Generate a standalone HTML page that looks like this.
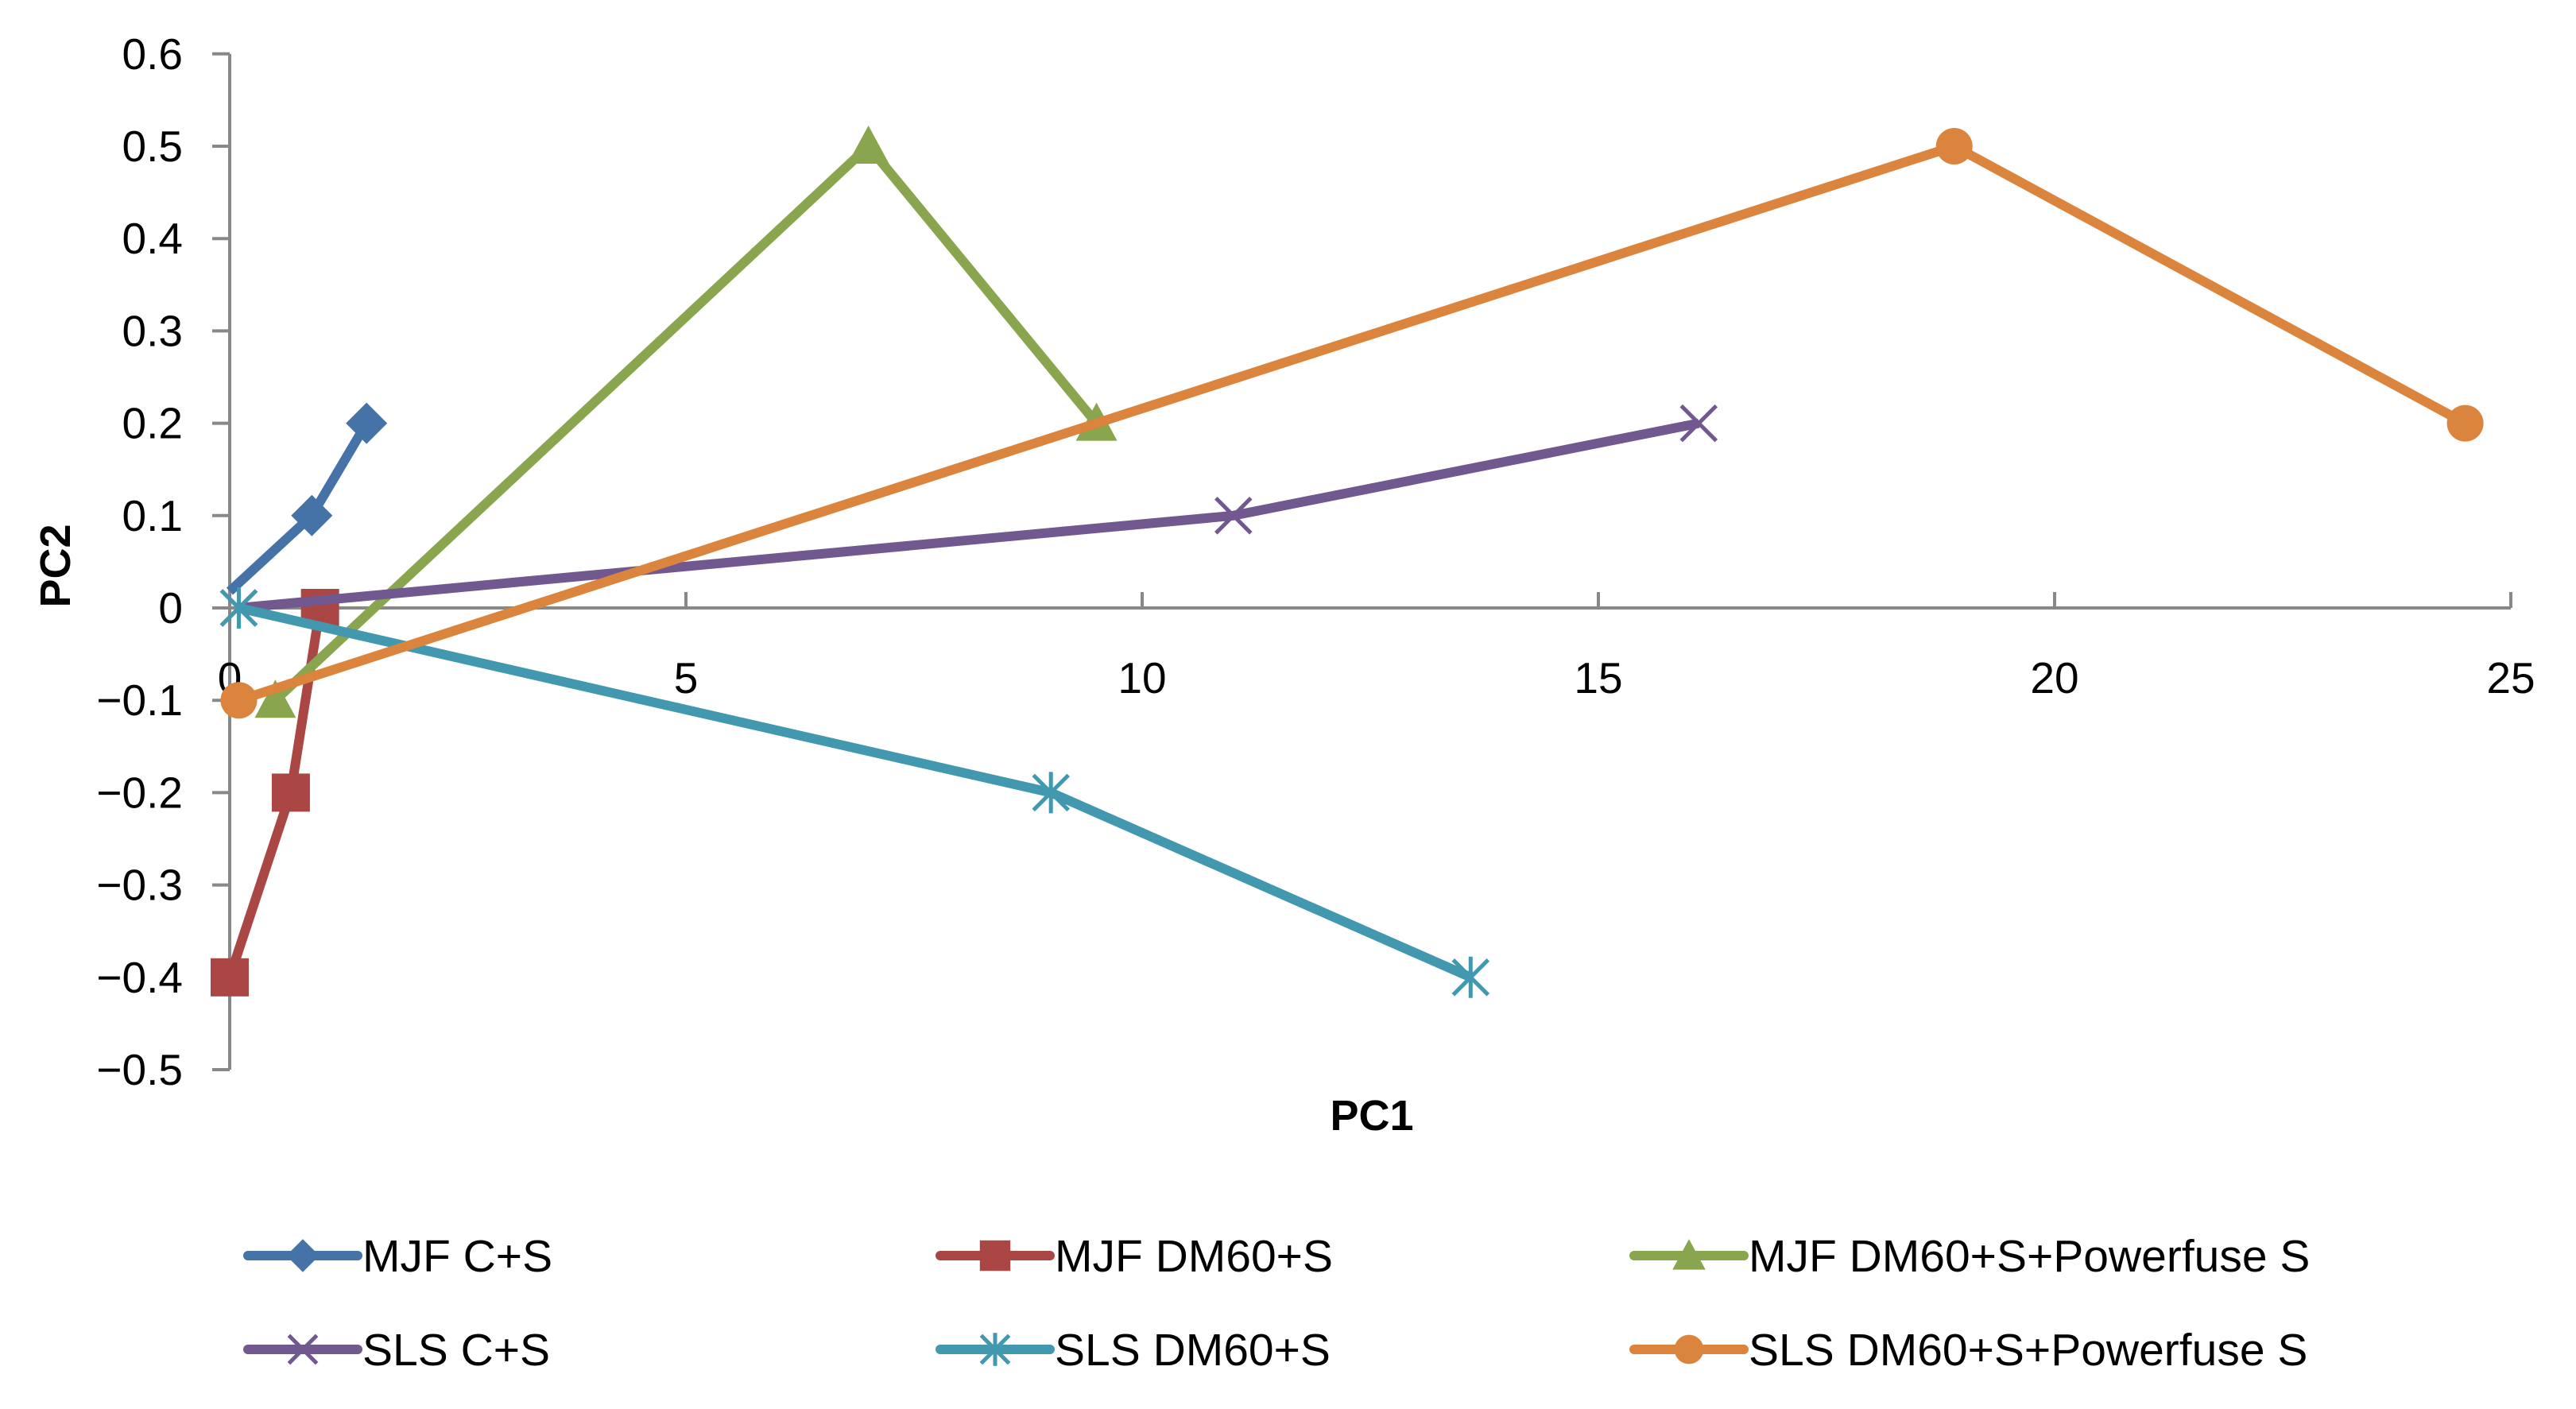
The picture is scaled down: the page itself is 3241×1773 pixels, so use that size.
<!DOCTYPE html>
<html><head><meta charset="utf-8">
<style>
html,body{margin:0;padding:0;background:#fff;}
svg{display:block;font-family:"Liberation Sans",sans-serif;}
</style></head>
<body>
<svg id="chart" width="3241" height="1773" viewBox="0 0 3241 1773" xmlns="http://www.w3.org/2000/svg">
<g id="axes"></g>
<g id="series"></g>
<g id="legend"></g>
</svg>
<script>
const xTicks = [0,5,10,15,20,25];
const yTicks = [0.6,0.5,0.4,0.3,0.2,0.1,0,-0.1,-0.2,-0.3,-0.4,-0.5];
const seriesNames = ["MJF C+S","MJF DM60+S","MJF DM60+S+Powerfuse S","SLS C+S","SLS DM60+S","SLS DM60+S+Powerfuse S"];
const mjfCS_x = [0,0.9,1.5];
const mjfCS_y = [0.018,0.1,0.2];
const mjfDM_x = [0,0.67,0.99];
const mjfDM_y = [-0.4,-0.2,0];
const mjfDMP_x = [0.5,7.0,9.5];
const mjfDMP_y = [-0.1,0.5,0.2];
const slsCS_x = [0.1,11.0,16.1];
const slsCS_y = [0,0.1,0.2];
const slsDM_x = [0.1,9.0,13.6];
const slsDM_y = [0,-0.2,-0.4];
const slsDMP_x = [0.1,18.9,24.5];
const slsDMP_y = [-0.1,0.5,0.2];

const NS="http://www.w3.org/2000/svg";
const X0=289, XU=114.8, Y0=765, YU=1162;
const sx=v=>X0+v*XU, sy=v=>Y0-v*YU;
function mk(tag,attrs,parent){const e=document.createElementNS(NS,tag);for(const k in attrs)e.setAttribute(k,attrs[k]);parent.appendChild(e);return e;}
const axes=document.getElementById('axes');
let ya=mk('line',{x1:sx(0),x2:sx(0),y1:sy(0.6),y2:sy(-0.5),stroke:'#888','stroke-width':4},axes);


yTicks.forEach(t=>{
  const l=mk('line',{x1:sx(0)-22,x2:sx(0),y1:sy(t),y2:sy(t),stroke:'#888','stroke-width':4},axes);
  
  
  const tx=mk('text',{x:230,y:sy(t)+19,'text-anchor':'end','font-size':55,fill:'#000'},axes);
  tx.textContent=(t<0?'\u2212':'')+Math.abs(t).toString().replace(/^0?\./,'0.');
  
  
});
let xa=mk('line',{x1:sx(0),x2:sx(25),y1:sy(0),y2:sy(0),stroke:'#888','stroke-width':4},axes);


xTicks.forEach(t=>{
  const l=mk('line',{x1:sx(t),x2:sx(t),y1:sy(0)-20,y2:sy(0),stroke:'#888','stroke-width':4},axes);
  
  
  const tx=mk('text',{x:sx(t),y:872,'text-anchor':'middle','font-size':55,fill:'#000'},axes);
  tx.textContent=t;
  
  
});
let xt=mk('text',{x:1726,y:1422,'text-anchor':'middle','font-size':54,'font-weight':'bold'},axes);
xt.textContent='PC1';


let yt=mk('text',{x:0,y:0,'text-anchor':'middle','font-size':54,'font-weight':'bold',transform:'translate(88,712) rotate(-90)'},axes);
yt.textContent='PC2';



const colors=['#4572A7','#AA4643','#89A54E','#71588F','#4198AF','#DB843D'];
const markers=['diamond','square','triangle','x','star','circle'];
const data=[[mjfCS_x,mjfCS_y],[mjfDM_x,mjfDM_y],[mjfDMP_x,mjfDMP_y],[slsCS_x,slsCS_y],[slsDM_x,slsDM_y],[slsDMP_x,slsDMP_y]];
function marker(type,x,y,c,g,s){
  s=s||1;
  if(type==='diamond') return mk('polygon',{points:`${x},${y-26*s} ${x+26*s},${y} ${x},${y+26*s} ${x-26*s},${y}`,fill:c},g);
  if(type==='square') return mk('rect',{x:x-24*s,y:y-24*s,width:48*s,height:48*s,fill:c},g);
  if(type==='triangle') return mk('polygon',{points:`${x},${y-26*s} ${x+26*s},${y+22*s} ${x-26*s},${y+22*s}`,fill:c},g);
  if(type==='circle') return mk('circle',{cx:x,cy:y,r:23*s,fill:c},g);
  if(type==='x'){const gg=mk('g',{},g);mk('path',{d:`M${x-22*s},${y-22*s}L${x+22*s},${y+22*s}M${x-22*s},${y+22*s}L${x+22*s},${y-22*s}`,stroke:c,'stroke-width':5},gg);return gg;}
  if(type==='star'){const gg=mk('g',{},g);mk('path',{d:`M${x-22*s},${y-22*s}L${x+22*s},${y+22*s}M${x-22*s},${y+22*s}L${x+22*s},${y-22*s}M${x},${y-26*s}L${x},${y+26*s}`,stroke:c,'stroke-width':5},gg);return gg;}
}
const sg=document.getElementById('series');
data.forEach((d,i)=>{
  const g=mk('g',{},sg);
  
  
  const pts=d[0].map((v,j)=>sx(v)+','+sy(d[1][j])).join(' ');
  const pl=mk('polyline',{points:pts,fill:'none',stroke:colors[i],'stroke-width':12,'stroke-linejoin':'round'},g);
  
  
  d[0].forEach((v,j)=>{
    if(i===0&&j===0) return;
    const m=marker(markers[i],sx(v),sy(d[1][j]),colors[i],g);
    
    
  });
});
const lg=document.getElementById('legend');
const lx=[312,1183,2056], ly=[1580,1698];
seriesNames.forEach((n,i)=>{
  const x=lx[i%3], y=ly[Math.floor(i/3)];
  const g=mk('g',{},lg);
  
  
  mk('line',{x1:x,x2:x+138,y1:y,y2:y,stroke:colors[i],'stroke-width':12,'stroke-linecap':'round'},g);
  marker(markers[i],x+69,y,colors[i],g,0.8);
  const t=mk('text',{x:x+144,y:y+20,'font-size':57,fill:'#000'},g);
  t.textContent=n;
});
</script>
</body></html>
